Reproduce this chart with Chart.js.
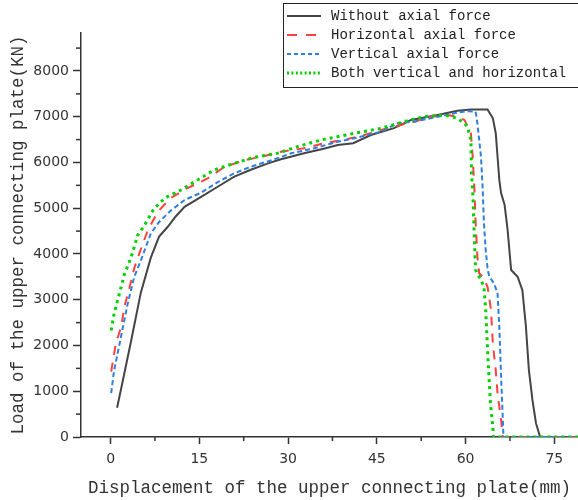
<!DOCTYPE html>
<html lang="en">
<head>
  <meta charset="UTF-8">
  <title>Load - displacement</title>
  <style>
    body {
      margin: 0;
      background: #ffffff;
    }
    #chart {
      display: block;
    }
  </style>
</head>
<body>
  <canvas id="chart" width="578" height="500"></canvas>

  <script src="https://cdn.jsdelivr.net/npm/chart.js"></script>
  <script>
    // series (x in mm, y in KN)
    const xNone = [1.1, 2.1, 3.5, 5.1, 6.8, 8.2, 9.7, 11.0, 12.5, 15.3, 18.1, 20.9, 23.7, 26.6, 28.8, 32.7, 36.0, 38.4, 41.0, 44.0, 47.9, 50.8, 55.3, 58.6, 60.9, 63.7, 64.6, 65.1, 65.4, 65.7, 66.0, 66.6, 67.1, 67.5, 67.7, 68.8, 69.6, 70.2, 70.7, 71.3, 71.9, 72.6, 79];
    const yNone = [640, 1250, 2120, 3150, 3920, 4380, 4600, 4820, 5030, 5250, 5470, 5690, 5840, 5980, 6070, 6200, 6300, 6380, 6420, 6600, 6750, 6930, 7040, 7130, 7160, 7160, 6970, 6640, 6130, 5620, 5330, 5070, 4530, 3940, 3650, 3500, 3210, 2410, 1460, 810, 300, 0, 0];

    const xHor = [0.1, 0.9, 1.8, 2.3, 3.2, 4.0, 5.15, 6.3, 8.0, 10.2, 13.0, 16.4, 19.2, 22.6, 26.0, 28.8, 32.7, 36.1, 38.9, 42.9, 46.8, 51.3, 54.1, 57.0, 58.6, 59.8, 60.9, 61.2, 61.5, 61.7, 62.0, 62.3, 62.9, 63.7, 64.3, 64.6, 65.1, 65.4, 66.0, 66.3, 79];
    const yHor = [1430, 2050, 2410, 2830, 3270, 3690, 4120, 4520, 4925, 5230, 5440, 5650, 5900, 6050, 6140, 6236, 6310, 6420, 6480, 6600, 6750, 6890, 7000, 7040, 7000, 6930, 6640, 6130, 5400, 4670, 3940, 3580, 3500, 3290, 2780, 2050, 1460, 955, 370, 0, 0];

    const xVer = [0.1, 0.6, 1.2, 2.1, 2.9, 4.0, 5.15, 6.8, 8.2, 10.2, 12.5, 15.3, 18.1, 20.9, 23.7, 27.7, 30.5, 34.4, 38.4, 41.2, 45.7, 48.5, 51.3, 55.3, 58.1, 60.0, 61.7, 62.0, 62.3, 62.6, 62.9, 63.1, 63.4, 63.7, 64.0, 64.8, 65.4, 65.7, 66.0, 66.3, 66.4, 79];
    const yVer = [960, 1460, 1830, 2410, 2920, 3500, 3870, 4450, 4700, 4950, 5180, 5340, 5570, 5764, 5908, 6070, 6200, 6310, 6455, 6530, 6674, 6856, 6892, 7001, 7075, 7120, 7110, 6856, 6492, 6127, 5399, 4671, 4087, 3700, 3504, 3359, 3141, 2411, 1318, 372, 0, 0];

    const xBoth = [0.1, 0.6, 1.5, 2.3, 3.5, 4.6, 5.7, 7.2, 8.5, 9.7, 11.9, 14.7, 17.5, 20.9, 24.3, 28.2, 31.6, 35.6, 41.2, 45.7, 49.6, 53.0, 56.4, 58.6, 59.8, 60.3, 60.9, 61.0, 61.2, 61.4, 61.6, 61.7, 62.6, 63.1, 63.4, 63.8, 64.2, 64.6, 64.7, 79];
    const yBoth = [2330, 2700, 3140, 3540, 3940, 4415, 4620, 4960, 5143, 5260, 5399, 5617, 5836, 5982, 6113, 6201, 6347, 6492, 6638, 6747, 6892, 7001, 7038, 6966, 6856, 6783, 6492, 5764, 5399, 4671, 3941, 3650, 3432, 3285, 2776, 1683, 737, 225, 0, 0];

    const seriesNames = ['Without axial force', 'Horizontal axial force', 'Vertical axial force', 'Both vertical and horizontal'];
    const xTicks = [0, 15, 30, 45, 60, 75];
    const xMinor = [7.5, 22.5, 37.5, 52.5, 67.5];
    const yTicks = [0, 1000, 2000, 3000, 4000, 5000, 6000, 7000, 8000];
    const yMinor = [500, 1500, 2500, 3500, 4500, 5500, 6500, 7500, 8500];

    const pts = (xs, ys) => xs.map((x, i) => ({ x: x, y: ys[i] }));

    const axisColor = '#333333';
    const monoFont = "'Liberation Mono', 'DejaVu Sans Mono', monospace";

    // minor ticks and the boxed legend inside the plot
    const extras = {
      id: 'extras',
      afterDraw(chart) {
        const ctx = chart.ctx;
        const xs = chart.scales.x;
        const ys = chart.scales.y;
        ctx.save();
        ctx.strokeStyle = axisColor;
        ctx.lineWidth = 1.5;
        xMinor.forEach(v => {
          const p = xs.getPixelForValue(v);
          ctx.beginPath();
          ctx.moveTo(p, xs.top);
          ctx.lineTo(p, xs.top + 4);
          ctx.stroke();
        });
        yMinor.forEach(v => {
          const p = ys.getPixelForValue(v);
          ctx.beginPath();
          ctx.moveTo(ys.right, p);
          ctx.lineTo(ys.right - 5, p);
          ctx.stroke();
        });

        // legend box
        ctx.fillStyle = '#ffffff';
        ctx.fillRect(283.5, 3.5, 300, 84);
        ctx.lineWidth = 1;
        ctx.strokeStyle = '#222222';
        ctx.strokeRect(283.5, 3.5, 300, 84);
        const rows = [16, 35, 54, 73];
        const legendDash = [[], [10, 9], [4, 3], [2, 2.4]];
        chart.data.datasets.forEach((ds, i) => {
          const yy = rows[i];
          ctx.beginPath();
          ctx.setLineDash(legendDash[i]);
          ctx.strokeStyle = ds.borderColor;
          ctx.lineWidth = ds.borderWidth;
          ctx.moveTo(287, yy);
          ctx.lineTo(321, yy);
          ctx.stroke();
          ctx.setLineDash([]);
          ctx.fillStyle = '#222222';
          ctx.font = '14px ' + monoFont;
          ctx.textBaseline = 'middle';
          ctx.fillText(ds.label, 331, yy);
        });
        ctx.restore();
      }
    };

    new Chart(document.getElementById('chart'), {
      type: 'line',
      data: {
        datasets: [
          { label: seriesNames[0], data: pts(xNone, yNone), borderColor: '#454545', borderWidth: 2, order: 3 },
          { label: seriesNames[1], data: pts(xHor, yHor), borderColor: '#ff4040', borderWidth: 2, borderDash: [9, 8], order: 2 },
          { label: seriesNames[2], data: pts(xVer, yVer), borderColor: '#2f7fe0', borderWidth: 2, borderDash: [5, 3], order: 1 },
          { label: seriesNames[3], data: pts(xBoth, yBoth), borderColor: '#00d000', borderWidth: 3, borderDash: [3, 4], order: 0 }
        ]
      },
      options: {
        responsive: false,
        animation: false,
        layout: { padding: { top: 33, right: 0, left: 0, bottom: 0 } },
        elements: {
          point: { radius: 0 },
          line: { tension: 0, fill: false }
        },
        plugins: {
          legend: { display: false },
          tooltip: { enabled: false }
        },
        scales: {
          x: {
            type: 'linear',
            min: -5,
            max: 79,
            afterBuildTicks: s => { s.ticks = xTicks.map(v => ({ value: v })); },
            afterFit: s => { s.height = 63; },
            grid: { drawOnChartArea: false, tickLength: 7, tickColor: axisColor, tickWidth: 1.5 },
            border: { color: axisColor, width: 1.5 },
            ticks: { color: axisColor, padding: 7, maxRotation: 0, font: { family: 'DejaVu Sans', size: 14 } },
            title: {
              display: true,
              text: 'Displacement of the upper connecting plate(mm)',
              color: axisColor,
              padding: { top: 0, bottom: 1.5 },
              font: { family: monoFont, size: 17.5 }
            }
          },
          y: {
            type: 'linear',
            min: 0,
            max: 8830,
            afterBuildTicks: s => { s.ticks = yTicks.map(v => ({ value: v })); },
            afterFit: s => { s.width = 81; },
            grid: { drawOnChartArea: false, tickLength: 8, tickColor: axisColor, tickWidth: 1.5 },
            border: { color: axisColor, width: 1.5 },
            ticks: { color: axisColor, padding: 4, callback: v => String(v), font: { family: 'DejaVu Sans', size: 14 } },
            title: {
              display: true,
              text: 'Load of the upper connecting plate(KN)',
              color: axisColor,
              padding: { top: 7.5, bottom: 0 },
              font: { family: monoFont, size: 17.5 }
            }
          }
        }
      },
      plugins: [extras]
    });
  </script>
</body>
</html>
